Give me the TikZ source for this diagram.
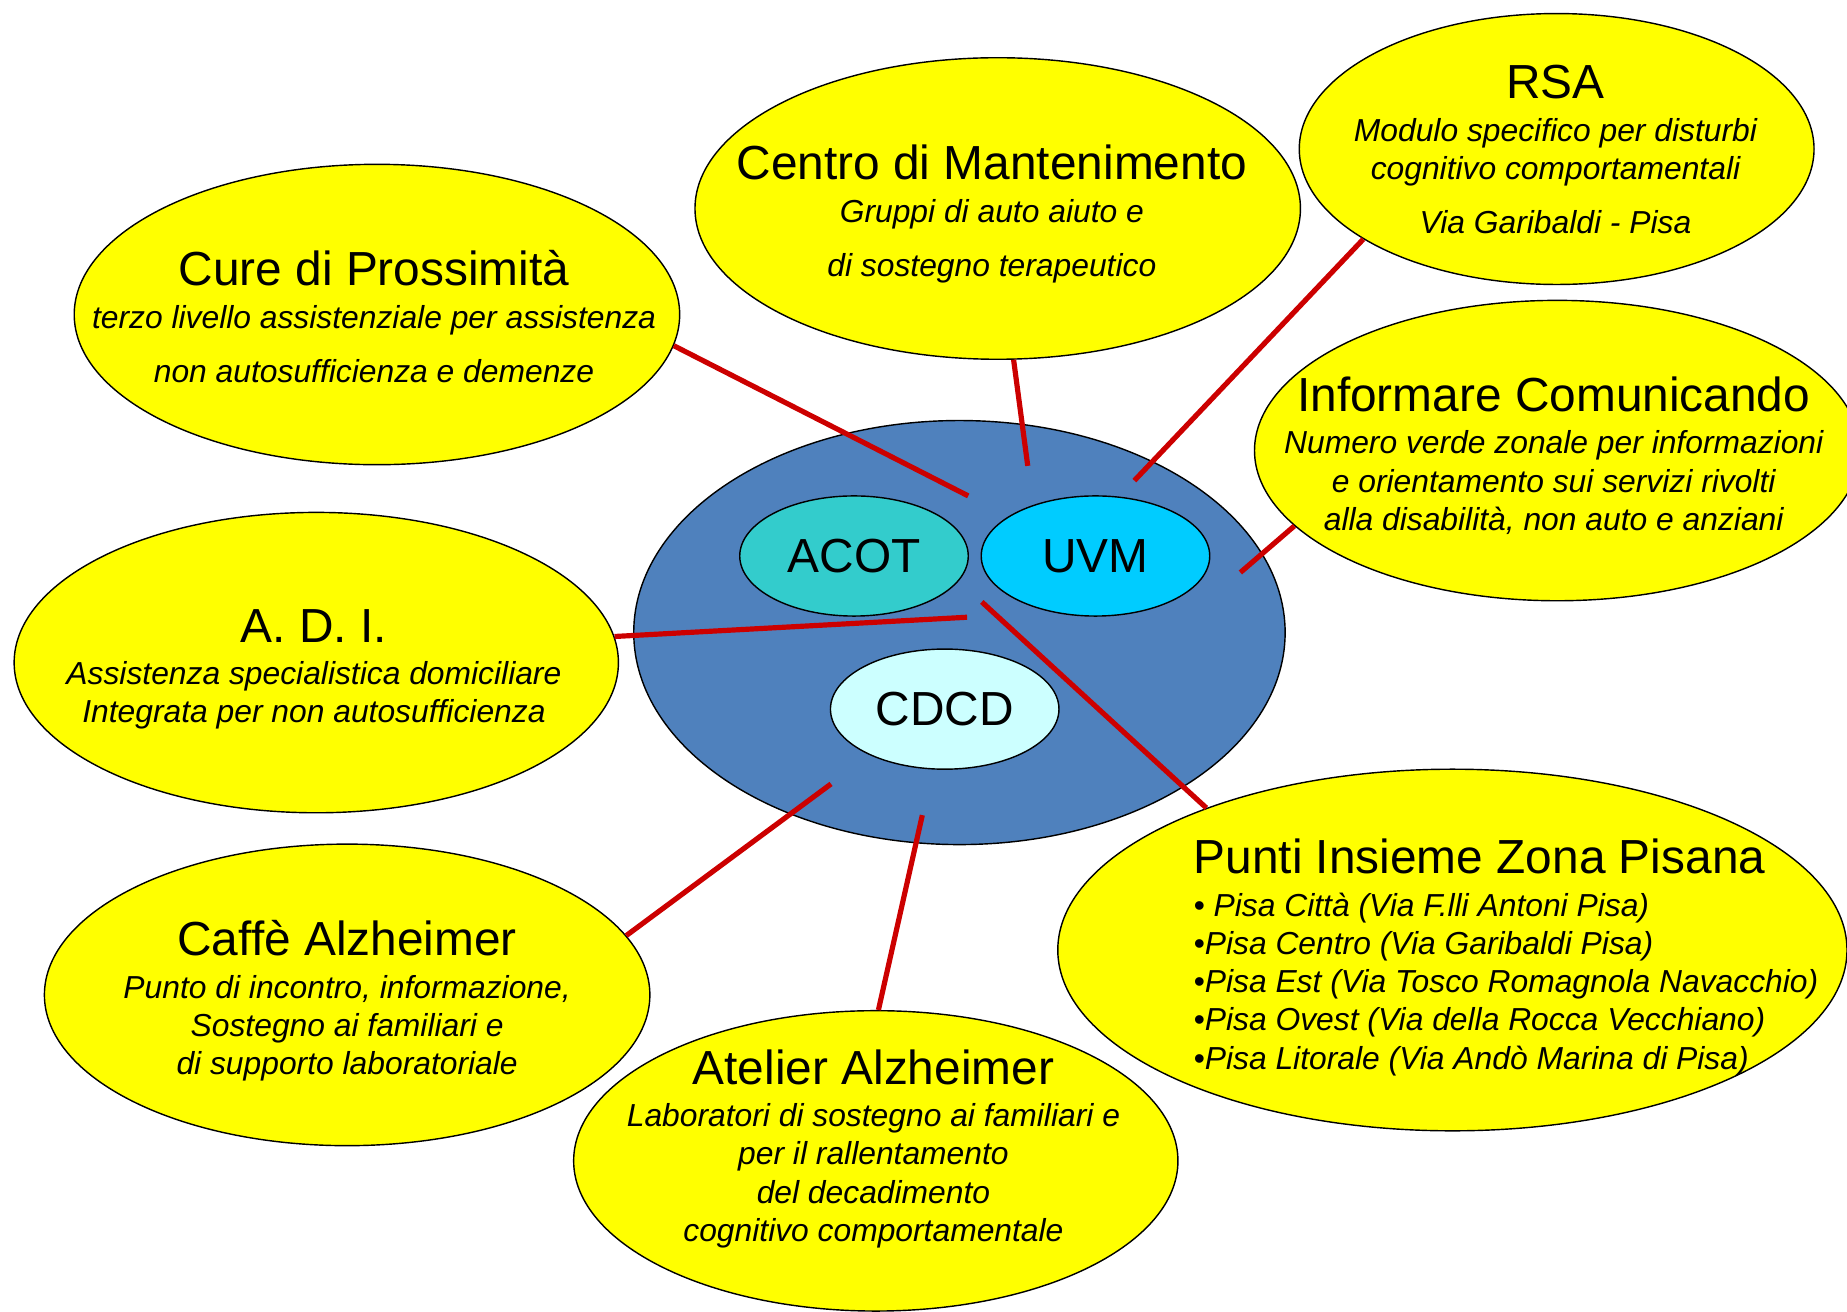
\documentclass[tikz,border=0pt]{standalone}
\usepackage{fontspec}
\setmainfont{Liberation Sans}
\usetikzlibrary{shapes.geometric,calc}

\definecolor{bubbleyellow}{RGB}{255,255,0}
\definecolor{coreblue}{RGB}{79,129,189}
\definecolor{acotcyan}{RGB}{51,204,204}
\definecolor{uvmcyan}{RGB}{0,204,255}
\definecolor{cdcdcyan}{RGB}{204,255,255}
\definecolor{linkred}{RGB}{204,0,0}

\newcommand{\headfont}{\fontsize{20.3}{24}\selectfont\upshape}
\newcommand{\notefont}{\fontsize{13.5}{16.25}\selectfont\itshape}

\tikzset{
  bubble/.style={ellipse, draw=black, line width=0.6pt, fill=bubbleyellow, inner sep=0pt},
  core/.style={ellipse, draw=black, line width=0.6pt, inner sep=0pt, font=\headfont},
  txt/.style={align=center, inner sep=0pt, font=\notefont},
  link/.style={draw=linkred, line width=2.2pt},
}

\begin{document}
\begin{tikzpicture}[x=0.5pt,y=0.5pt,yscale=-1,xscale=1]
            \useasboundingbox (0,0) rectangle (1568,1113);

            %Shape: Ellipse
            \node[bubble, minimum width=257pt, minimum height=127.5pt] (cure) at (320,267) {};
            %Shape: Ellipse
            \node[bubble, minimum width=257pt, minimum height=128pt] (centro) at (847,177) {};
            %Shape: Ellipse
            \node[bubble, minimum width=218.5pt, minimum height=115pt] (rsa) at (1321.5,126.5) {};
            %Shape: Ellipse
            \node[bubble, minimum width=257pt, minimum height=127.5pt] (info) at (1322,382.5) {};
            %Shape: Ellipse
            \node[bubble, minimum width=256.5pt, minimum height=127.5pt] (adi) at (268.5,562.5) {};
            %Shape: Ellipse
            \node[bubble, minimum width=257pt, minimum height=128pt] (caffe) at (294.7,844.6) {};
            %Shape: Ellipse
            \node[bubble, minimum width=256.5pt, minimum height=127.5pt] (atelier) at (743.5,985.5) {};
            %Shape: Ellipse
            \node[bubble, minimum width=335pt, minimum height=153.5pt] (punti) at (1233,806.5) {};

            %Shape: Ellipse
            \node[core, fill=coreblue, minimum width=276.5pt, minimum height=180pt] (hub) at (814.5,537) {};
            %Shape: Ellipse
            \node[core, fill=acotcyan, minimum width=97pt, minimum height=51pt] (acot) at (725,472) {ACOT};
            %Shape: Ellipse
            \node[core, fill=uvmcyan, minimum width=97pt, minimum height=51pt] (uvm) at (930,472) {UVM};
            %Shape: Ellipse
            \node[core, fill=cdcdcyan, minimum width=97pt, minimum height=51pt] (cdcd) at (802,602) {CDCD};

            % Text Node
            \node[txt] (cure text) at ($(cure)+(-2.5,1.75)$) {{\headfont Cure di Prossimità}\\[1.75pt] terzo livello assistenziale per assistenza\\[6.75pt] non autosufficienza e demenze};
            % Text Node
            \node[txt] (centro text) at ($(centro)+(-5,4.75)$) {{\headfont Centro di Mantenimento}\\[1.75pt] Gruppi di auto aiuto e\\[6.75pt] di sostegno terapeutico};
            % Text Node
            \node[txt] (rsa text) at ($(rsa)+(-1,0.75)$) {{\headfont RSA}\\[1.75pt] Modulo specifico per disturbi\\ cognitivo comportamentali\\[6.75pt] Via Garibaldi - Pisa};
            % Text Node
            \node[txt] (info text) at ($(info)+(-3,4.25)$) {{\headfont Informare Comunicando}\\[1.75pt] Numero verde zonale per informazioni\\ e orientamento sui servizi rivolti\\ alla disabilità, non auto e anziani};
            % Text Node
            \node[txt] (adi text) at ($(adi)+(-2,5.75)$) {{\headfont A. D. I.}\\[1.75pt] Assistenza specialistica domiciliare\\ Integrata per non autosufficienza};
            % Text Node
            \node[txt] (caffe text) at ($(caffe)+(0,5.25)$) {{\headfont Caffè Alzheimer}\\[1.75pt] Punto di incontro, informazione,\\ Sostegno ai familiari e\\ di supporto laboratoriale};
            % Text Node
            \node[txt] (atelier text) at ($(atelier)+(-2,-10.25)$) {{\headfont Atelier Alzheimer}\\[1.75pt] Laboratori di sostegno ai familiari e\\ per il rallentamento\\ del decadimento\\ cognitivo comportamentale};
            % Text Node
            \node[txt, align=left, anchor=west] (punti text) at ($(punti)+(-220,6.25)$) {{\headfont Punti Insieme Zona Pisana}\\[1.75pt] • Pisa Città (Via F.lli Antoni Pisa)\\ •Pisa Centro (Via Garibaldi Pisa)\\ •Pisa Est (Via Tosco Romagnola Navacchio)\\ •Pisa Ovest (Via della Rocca Vecchiano)\\ •Pisa Litorale (Via Andò Marina di Pisa)};

            \coordinate (cure end) at (822,421);
            \coordinate (centro end) at (872.5,395.5);
            \coordinate (rsa end) at (963,408);
            \coordinate (info end) at (1053,486);
            \coordinate (adi end) at (821,524);
            \coordinate (punti end) at (833.5,511);
            \coordinate (caffe end) at (705.5,665.5);
            \coordinate (atelier end) at (783,692);

            %Straight Lines
            \draw[link] (cure.-6) -- (cure end);
            \draw[link] (centro.-84.2) -- (centro end);
            \draw[link] (rsa.205) -- (rsa end);
            \draw[link] (info.196.6) -- (info end);
            \draw[link] (adi.5.6) -- (adi end);
            \draw[link] (punti.150.8) -- (punti end);
            \draw[link] (caffe.12.5) -- (caffe end);
            \draw[link] (atelier.89.3) -- (atelier end);
\end{tikzpicture}
\end{document}
